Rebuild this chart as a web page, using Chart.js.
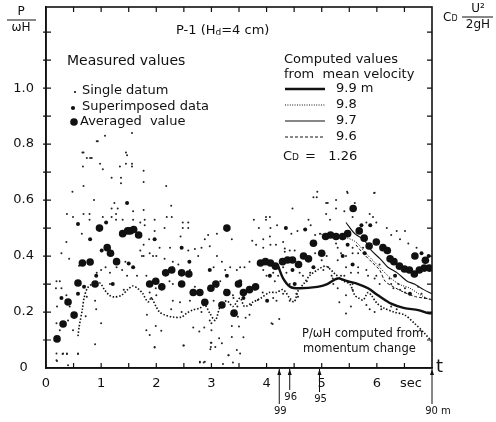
<!DOCTYPE html>
<html>
<head>
<meta charset="utf-8">
<script src="https://cdn.jsdelivr.net/npm/chart.js@4.4.1/dist/chart.umd.min.js"></script>
<style>
  html, body { margin: 0; padding: 0; background: #fff; }
  #wrap { width: 496px; height: 422px; }
</style>
</head>
<body>
<div id="wrap"><canvas id="chart" width="496" height="422"></canvas></div>
<script>
// time (sec) on x, P/wH on y
const singleDatum = [
  [0.94,0.81],[1.07,0.83],[1.56,0.84],[0.66,0.77],[0.74,0.75],[0.80,0.75],[0.67,0.72],[1.03,0.71],[1.47,0.76],[1.36,0.68],
  [1.36,0.66],[1.56,0.72],[1.19,0.68],[0.68,0.65],[0.48,0.63],[0.87,0.60],[1.24,0.59],[1.30,0.57],[0.38,0.55],[0.49,0.54],
  [0.68,0.55],[0.79,0.55],[0.79,0.53],[1.03,0.54],[1.19,0.57],[1.19,0.54],[1.27,0.55],[1.27,0.53],[1.39,0.53],[1.58,0.56],
  [1.58,0.53],[1.59,0.49],[1.71,0.52],[1.70,0.47],[0.65,0.48],[0.37,0.45],[0.28,0.41],[0.42,0.39],[0.60,0.365],[0.66,0.37],
  [0.92,0.34],[1.00,0.35],[1.08,0.36],[1.16,0.34],[1.28,0.36],[1.38,0.35],[1.44,0.38],[1.47,0.33],[1.65,0.33],[1.71,0.42],
  [1.74,0.40],[0.19,0.31],[0.25,0.31],[0.18,0.285],[0.28,0.285],[0.37,0.26],[0.20,0.22],[0.43,0.22],[0.40,0.17],[0.19,0.16],
  [0.25,0.135],[0.49,0.135],[0.74,0.255],[0.89,0.24],[0.91,0.21],[0.72,0.185],[1.00,0.16],[0.89,0.085],[0.19,0.052],[0.19,0.028],
  [0.31,0.052],[0.38,0.052],[0.58,0.052],[1.16,0.30],[1.41,0.28],
  [1.77,0.705],[1.77,0.665],[2.18,0.65],[2.27,0.58],[1.77,0.565],[1.79,0.53],[1.79,0.51],[1.97,0.53],[2.19,0.54],[2.28,0.54],
  [2.15,0.50],[1.97,0.49],[2.48,0.52],[2.58,0.52],[2.48,0.50],[2.58,0.50],[2.44,0.47],[1.77,0.44],[1.77,0.40],[1.87,0.46],
  [2.06,0.43],[2.25,0.43],[2.58,0.42],[2.70,0.425],[2.82,0.43],[2.97,0.435],[2.94,0.475],[3.10,0.48],[3.37,0.46],[2.88,0.46],
  [1.88,0.41],[1.94,0.40],[2.00,0.40],[2.15,0.39],[2.30,0.38],[2.40,0.37],[2.61,0.35],[2.76,0.40],[3.10,0.40],[3.19,0.38],
  [3.25,0.35],[3.34,0.36],[3.46,0.35],[3.04,0.36],[2.30,0.36],[1.88,0.27],[1.91,0.25],[1.82,0.33],[1.99,0.285],[2.00,0.26],
  [2.24,0.31],[2.30,0.30],[2.30,0.24],[2.27,0.21],[2.43,0.235],[2.46,0.20],[2.61,0.24],[2.70,0.29],[2.82,0.20],[2.97,0.17],
  [3.04,0.24],[3.10,0.29],[3.16,0.31],[3.25,0.28],[3.39,0.26],[3.40,0.25],[3.47,0.22],[1.83,0.19],[1.82,0.135],[1.99,0.15],
  [1.88,0.118],[2.09,0.133],[1.97,0.073],[2.67,0.145],[2.78,0.13],[2.87,0.145],[3.00,0.16],[3.00,0.135],[3.14,0.106],[3.00,0.09],
  [2.98,0.067],[3.19,0.088],[3.37,0.15],[3.31,0.046],[3.46,0.064],[3.52,0.052],[2.79,0.022],[2.88,0.022],[3.37,0.111],[2.49,0.08],
  [4.91,0.61],[5.08,0.59],[4.47,0.57],[3.99,0.54],[4.06,0.54],[3.99,0.53],[3.77,0.53],[3.86,0.50],[4.07,0.50],[4.19,0.51],
  [4.45,0.48],[4.56,0.49],[4.76,0.53],[4.80,0.51],[4.88,0.475],[4.97,0.48],[5.08,0.55],[5.15,0.53],[3.74,0.455],[3.81,0.44],
  [3.94,0.46],[3.94,0.43],[4.06,0.47],[4.07,0.44],[4.17,0.44],[4.30,0.45],[4.33,0.427],[4.33,0.415],[4.42,0.42],[4.51,0.42],
  [4.60,0.34],[4.66,0.33],[4.73,0.31],[4.79,0.34],[4.88,0.41],[4.96,0.41],[5.00,0.385],[5.09,0.40],[5.03,0.35],[5.12,0.36],
  [5.18,0.33],[5.21,0.30],[3.94,0.35],[4.00,0.33],[4.12,0.34],[4.15,0.31],[4.21,0.33],[4.30,0.36],[4.36,0.34],[4.42,0.30],
  [3.69,0.38],[3.60,0.36],[3.52,0.36],[3.72,0.225],[3.84,0.243],[3.78,0.28],[3.93,0.27],[4.12,0.25],[4.18,0.24],[4.30,0.265],
  [4.42,0.24],[4.54,0.265],[4.57,0.255],[3.48,0.183],[3.62,0.18],[3.69,0.19],[4.09,0.16],[4.23,0.175],[3.58,0.11],[3.50,0.148],
  [4.11,0.157],[4.85,0.61],[5.11,0.59],
  [5.46,0.63],[5.96,0.626],[5.60,0.59],[5.26,0.60],[5.26,0.57],[5.41,0.56],[5.87,0.55],[5.93,0.54],[5.56,0.54],[5.81,0.52],
  [5.99,0.52],[6.18,0.50],[6.36,0.49],[6.51,0.49],[6.42,0.46],[6.26,0.475],[6.57,0.445],[6.72,0.43],[5.26,0.445],[5.29,0.43],
  [5.38,0.46],[5.56,0.43],[5.56,0.41],[5.66,0.41],[5.75,0.43],[5.35,0.41],[5.44,0.40],[5.29,0.385],[5.44,0.36],[5.53,0.34],
  [5.66,0.36],[5.66,0.34],[5.81,0.35],[5.84,0.33],[5.99,0.33],[6.05,0.37],[5.96,0.32],[6.05,0.30],[6.23,0.32],[6.26,0.30],
  [6.39,0.30],[6.30,0.285],[6.42,0.28],[6.51,0.27],[6.51,0.285],[6.75,0.29],[6.81,0.265],[6.87,0.25],[5.20,0.32],[5.29,0.285],
  [5.35,0.33],[5.41,0.33],[5.56,0.30],[5.56,0.28],[5.44,0.26],[5.32,0.235],[5.53,0.22],[5.44,0.195],[5.81,0.225],[5.87,0.21],
  [5.96,0.20],[6.08,0.21],[6.26,0.22],[6.36,0.21],[5.47,0.625],[5.95,0.625],[4.92,0.63],
  [0.20,0.025],[0.30,0.05],[0.38,0.05],[0.58,0.05],[0.40,0.01],[1.97,0.075],[2.50,0.08],[2.79,0.02],[2.86,0.02],[2.99,0.09],
  [2.99,0.075],[3.07,0.075],[3.21,0.014],[3.31,0.046],[3.39,0.02],
  [0.92,0.81],[0.68,0.77],[0.83,0.75],[0.98,0.73],[1.45,0.77],[1.45,0.73],[1.34,0.72],[1.56,0.73]
];

const superimposed = [
  [0.58,0.515],[1.09,0.52],[0.80,0.46],[1.01,0.42],[0.91,0.33],[1.58,0.36],[0.28,0.25],[0.58,0.265],[0.69,0.29],[1.21,0.30],
  [1.50,0.373],[1.47,0.59],[1.97,0.46],[2.46,0.43],[2.60,0.38],[2.97,0.35],[3.28,0.33],[3.52,0.31],[3.58,0.25],[4.01,0.24],
  [4.06,0.33],[4.35,0.50],[4.47,0.35],[4.51,0.30],[4.70,0.495],[4.85,0.36],[5.38,0.40],[5.47,0.44],[5.56,0.37],[5.72,0.51],
  [5.78,0.41],[5.88,0.51],[6.33,0.33],[6.60,0.265],[6.81,0.41],[6.94,0.40]
];

const averaged = [
  [0.20,0.104],[0.31,0.157],[0.40,0.236],[0.51,0.189],[0.58,0.304],[0.66,0.375],[0.80,0.379],[0.89,0.30],[0.97,0.50],[1.11,0.43],
  [1.17,0.41],[1.28,0.38],[1.39,0.48],[1.48,0.49],[1.53,0.49],[1.59,0.495],[1.68,0.475],[1.88,0.30],[1.99,0.31],[2.10,0.29],
  [2.17,0.34],[2.28,0.35],[2.46,0.34],[2.46,0.30],[2.59,0.336],[2.67,0.27],[2.79,0.27],[2.88,0.235],[2.99,0.285],[3.08,0.30],
  [3.19,0.225],[3.28,0.50],[3.28,0.27],[3.41,0.196],[3.49,0.30],[3.58,0.27],[3.69,0.28],[3.80,0.29],[3.89,0.375],[3.98,0.38],
  [4.07,0.375],[4.16,0.364],[4.29,0.38],[4.38,0.386],[4.47,0.386],[4.58,0.37],[4.67,0.40],[4.76,0.39],[4.85,0.446],[5.00,0.41],
  [5.07,0.47],[5.16,0.475],[5.26,0.47],[5.38,0.47],[5.47,0.48],[5.57,0.57],[5.68,0.49],[5.77,0.464],[5.86,0.436],[5.99,0.45],
  [6.11,0.43],[6.19,0.42],[6.24,0.39],[6.31,0.38],[6.41,0.364],[6.50,0.354],[6.59,0.35],[6.68,0.336],[6.69,0.40],[6.77,0.35],
  [6.86,0.357],[6.88,0.385],[6.95,0.357]
];

// P/wH computed from momentum change
const momentumLine = [
  [0.58,0.114],[0.60,0.146],[0.66,0.21],[0.69,0.25],[0.75,0.285],[0.84,0.30],[0.97,0.305],[1.06,0.28],[1.15,0.26],[1.24,0.254],
  [1.37,0.26],[1.48,0.28],[1.57,0.293],[1.66,0.285],[1.75,0.267],[1.85,0.236],[1.91,0.25],[2.00,0.218],[2.06,0.20],[2.15,0.19],
  [2.30,0.182],[2.46,0.182],[2.55,0.196],[2.66,0.207],[2.79,0.214],[2.88,0.225],[2.97,0.196],[3.07,0.17],[3.16,0.22],[3.28,0.24],
  [3.39,0.22],[3.52,0.25],[3.60,0.22],[3.76,0.236],[3.90,0.25],[4.05,0.27],[4.18,0.27],[4.30,0.28],[4.42,0.25],[4.50,0.236],
  [4.58,0.28],[4.67,0.30],[4.78,0.33],[4.92,0.35],[5.07,0.364],[5.22,0.34],[5.40,0.31],[5.51,0.30],[5.60,0.26],[5.67,0.25],
  [5.75,0.243],[5.84,0.27],[5.90,0.26],[6.00,0.232],[6.13,0.214],[6.31,0.20],[6.50,0.19],[6.68,0.16],[6.86,0.125],[7.00,0.093]
];

// computed from mean velocity, Cd = 1.26
const line99 = [[4.20,0.37],[4.30,0.32],[4.43,0.29],[4.60,0.285],[4.92,0.29],[5.10,0.30],[5.29,0.32],[5.47,0.31],[5.66,0.30],[5.84,0.285],[6.02,0.26],[6.26,0.23],[6.50,0.214],[6.75,0.207],[6.93,0.196],[7.00,0.196]];
const line98 = [[4.95,0.48],[5.20,0.47],[5.45,0.465],[5.62,0.45],[5.80,0.41],[6.00,0.37],[6.20,0.33],[6.40,0.30],[6.60,0.285],[6.80,0.26],[7.00,0.24]];
const line97 = [[5.44,0.52],[5.60,0.48],[5.77,0.457],[5.90,0.42],[6.06,0.39],[6.20,0.36],[6.37,0.34],[6.55,0.31],[6.68,0.30],[6.85,0.28],[7.00,0.265]];
const line96 = [[5.62,0.44],[5.75,0.41],[5.90,0.38],[6.05,0.35],[6.15,0.31],[6.30,0.29],[6.50,0.27],[6.70,0.255],[6.85,0.25],[7.00,0.245]];

const xLabels = [0, 1, 2, 3, 4, 5, 6];
const xMinor = [0.5, 1, 1.5, 2, 2.5, 3, 3.5, 4, 4.5, 5, 5.5, 6, 6.5];
const yLabels = [0, 0.2, 0.4, 0.6, 0.8, 1.0];
const yMinor = [0.1, 0.2, 0.3, 0.4, 0.5, 0.6, 0.7, 0.8, 0.9, 1.0, 1.1, 1.2];
const arrivalT = [4.23, 4.42, 4.96, 7.0];
const arrivalLabel = ['99', '96', '95', '90 m'];

const FONT = '"DejaVu Sans", sans-serif';
const pts = arr => arr.map(p => ({ x: p[0], y: p[1] }));

function lineSet(data, width, dash) {
  return {
    data: pts(data), showLine: true, pointRadius: 0, borderColor: '#111',
    borderWidth: width, borderDash: dash, tension: 0.3, fill: false
  };
}

function sub(ctx, x, y, big, small, size) {
  // "C" with a small-caps "D" after it
  ctx.font = size + 'px ' + FONT;
  ctx.fillText(big, x, y);
  const w = ctx.measureText(big).width;
  ctx.font = Math.round(size * 0.68) + 'px ' + FONT;
  ctx.fillText(small, x + w, y + 1);
  return w + ctx.measureText(small).width;
}

const decor = {
  id: 'decor',
  afterDraw(chart) {
    const { ctx, chartArea: a, scales: { x, y } } = chart;
    ctx.save();
    ctx.strokeStyle = '#111';
    ctx.fillStyle = '#111';

    // frame round the plot
    ctx.lineWidth = 1.6;
    ctx.strokeRect(a.left, a.top, a.right - a.left, a.bottom - a.top);

    // inward ticks
    ctx.lineWidth = 1.2;
    ctx.beginPath();
    yMinor.forEach(v => {
      const py = y.getPixelForValue(v);
      ctx.moveTo(a.left - 3, py); ctx.lineTo(a.left + 5, py);
      ctx.moveTo(a.right - 5, py); ctx.lineTo(a.right, py);
    });
    xMinor.forEach(v => {
      const px = x.getPixelForValue(v);
      ctx.moveTo(px, a.bottom); ctx.lineTo(px, a.bottom - 5);
      ctx.moveTo(px, a.top); ctx.lineTo(px, a.top + 5);
    });
    ctx.stroke();

    // arrival marks under the time axis
    const drop = [36, 22, 24, 36];
    ctx.lineWidth = 1;
    ctx.font = '10px ' + FONT;
    ctx.textAlign = 'center';
    ctx.textBaseline = 'middle';
    arrivalT.forEach((t, i) => {
      const px = x.getPixelForValue(t);
      ctx.beginPath();
      ctx.moveTo(px, a.bottom + 1); ctx.lineTo(px, a.bottom + drop[i]);
      ctx.stroke();
      ctx.beginPath();
      ctx.moveTo(px, a.bottom + 1); ctx.lineTo(px - 2, a.bottom + 7); ctx.lineTo(px + 2, a.bottom + 7);
      ctx.closePath(); ctx.fill();
      const lx = arrivalLabel[i] === '90 m' ? px + 6 : px + 1;
      ctx.fillText(arrivalLabel[i], lx, a.bottom + drop[i] + 7);
    });

    // axis end labels
    ctx.font = '13px ' + FONT;
    ctx.fillText('sec', x.getPixelForValue(6.62), a.bottom + 16);
    ctx.font = '18px ' + FONT;
    ctx.textAlign = 'left';
    ctx.fillText('t', a.right + 4, a.bottom - 1);

    // left axis title P / wH
    ctx.textAlign = 'center';
    ctx.font = '12px ' + FONT;
    ctx.fillText('P', 21, 12);
    ctx.fillText('ωH', 21, 28);
    ctx.lineWidth = 1;
    ctx.beginPath(); ctx.moveTo(7, 20); ctx.lineTo(36, 20); ctx.stroke();

    // right axis title Cd U^2/2gH
    ctx.textAlign = 'left';
    sub(ctx, 443, 18, 'C', 'D', 12);
    ctx.font = '12px ' + FONT;
    ctx.textAlign = 'center';
    ctx.fillText('U²', 478, 9);
    ctx.fillText('2gH', 478, 25);
    ctx.beginPath(); ctx.moveTo(462, 17); ctx.lineTo(493, 17); ctx.stroke();

    // case title
    ctx.textAlign = 'left';
    ctx.font = '13px ' + FONT;
    let cx = 176;
    ctx.fillText('P-1 (H', cx, 31); cx += ctx.measureText('P-1 (H').width;
    ctx.font = '9px ' + FONT;
    ctx.fillText('d', cx, 33); cx += ctx.measureText('d').width;
    ctx.font = '13px ' + FONT;
    ctx.fillText('=4 cm)', cx, 31);

    // measured values key
    ctx.font = '14px ' + FONT;
    ctx.fillText('Measured values', 67, 61);
    ctx.font = '13px ' + FONT;
    ctx.fillText('Single datum', 82, 91);
    ctx.fillText('Superimposed data', 82, 107);
    ctx.fillText('Averaged  value', 80, 122);
    [[75, 92, 1.1], [73, 108, 2.1], [74, 122, 3.8]].forEach(d => {
      ctx.beginPath(); ctx.arc(d[0], d[1], d[2], 0, Math.PI * 2); ctx.fill();
    });

    // computed values key
    ctx.fillText('Computed values', 284, 60);
    ctx.fillText('from  mean velocity', 284, 75);
    const keys = [
      { t: '9.9 m', w: 2.4, d: [], y: 89 },
      { t: '9.8', w: 1, d: [1, 1.4], y: 105 },
      { t: '9.7', w: 1.2, d: [], y: 121 },
      { t: '9.6', w: 1, d: [3, 2], y: 137 }
    ];
    keys.forEach(k => {
      ctx.lineWidth = k.w;
      ctx.setLineDash(k.d);
      ctx.beginPath(); ctx.moveTo(285, k.y); ctx.lineTo(325, k.y); ctx.stroke();
      ctx.setLineDash([]);
      ctx.fillText(k.t, 336, k.y);
    });
    const w = sub(ctx, 283, 157, 'C', 'D', 13);
    ctx.font = '13px ' + FONT;
    ctx.fillText('=   1.26', 283 + w + 6, 157);

    // momentum line note
    ctx.font = '11.5px ' + FONT;
    ctx.fillText('P/ωH computed from', 302, 334);
    ctx.fillText('momentum change', 303, 349);
    ctx.restore();
  }
};

new Chart(document.getElementById('chart'), {
  type: 'scatter',
  data: {
    datasets: [
      { data: pts(averaged), pointRadius: 3.8, backgroundColor: '#111', borderWidth: 0 },
      { data: pts(superimposed), pointRadius: 2.0, backgroundColor: '#111', borderWidth: 0 },
      { data: pts(singleDatum), pointRadius: 1.0, backgroundColor: '#222', borderWidth: 0 },
      lineSet(momentumLine, 1.6, [1.5, 1.8]),
      lineSet(line99, 2.4, []),
      lineSet(line98, 1, [1, 1.4]),
      lineSet(line97, 1.1, []),
      lineSet(line96, 1, [3, 2])
    ]
  },
  options: {
    responsive: false,
    animation: false,
    devicePixelRatio: 1,
    layout: { padding: { left: 6, right: 64, top: 7, bottom: 32 } },
    plugins: { legend: { display: false }, tooltip: { enabled: false } },
    scales: {
      x: {
        type: 'linear', min: 0, max: 7,
        afterFit: s => { s.height = 22; s.paddingLeft = 0; s.paddingRight = 0; },
        border: { display: true, color: '#111', width: 1.5 },
        grid: { display: false, drawTicks: false },
        ticks: {
          stepSize: 1, autoSkip: false, includeBounds: false, padding: 8,
          color: '#111', font: { family: FONT, size: 13 },
          callback: v => xLabels.includes(v) ? String(v) : ''
        }
      },
      y: {
        type: 'linear', min: 0, max: 1.29,
        afterFit: s => { s.width = 40; s.paddingTop = 0; s.paddingBottom = 0; },
        border: { display: true, color: '#111', width: 1.5 },
        grid: { display: false, drawTicks: false },
        ticks: {
          stepSize: 0.2, autoSkip: false, includeBounds: false, padding: 12, crossAlign: 'center',
          color: '#111', font: { family: FONT, size: 13 },
          callback: v => {
            const hit = yLabels.find(l => Math.abs(l - v) < 1e-6);
            if (hit === undefined) return '';
            return hit === 0 ? '0' : hit.toFixed(1);
          }
        }
      }
    }
  },
  plugins: [decor]
});
</script>
</body>
</html>
